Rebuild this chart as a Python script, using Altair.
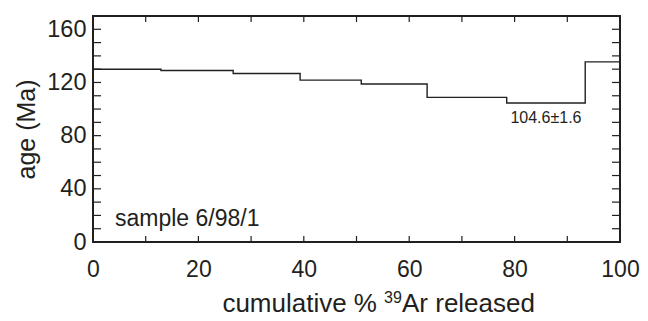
import altair as alt
import pandas as pd

# step-heating spectrum: cumulative % 39Ar boundaries and step ages (Ma)
cum_edges = [0, 12.9, 26.6, 39.3, 50.9, 63.4, 78.5, 93.4, 100]
step_ages = [130.0, 129.0, 126.8, 121.8, 118.8, 108.8, 104.6, 135.5]
plateau_label = "104.6±1.6"
sample_label = "sample 6/98/1"
y_tick_labels = [0, 40, 80, 120, 160]
x_tick_labels = [0, 20, 40, 60, 80, 100]
y_minor = [10, 20, 30, 40, 50, 60, 70, 80, 90, 100, 110, 120, 130, 140, 150, 160]
x_minor = [10, 20, 30, 40, 50, 60, 70, 80, 90]

W, H = 527, 226
FONT = "Liberation Sans"
INK = "#231f20"

xs = alt.Scale(domain=[0, 100], nice=False, zero=False)
ys = alt.Scale(domain=[0, 170], nice=False)
xa = alt.Axis(values=x_tick_labels, title=None, ticks=False, domain=False, grid=False,
              labelFontSize=23, labelFont=FONT, labelColor=INK, labelPadding=16, labelFlush=False)
ya = alt.Axis(values=y_tick_labels, title="age (Ma)", ticks=False, domain=False, grid=False,
              labelFontSize=23.5, labelFont=FONT, labelColor=INK, labelPadding=7,
              titleFontSize=25, titleFont=FONT, titleColor=INK, titleFontWeight="normal",
              titlePadding=7)

steps = pd.DataFrame({"pct": cum_edges, "age": step_ages + [step_ages[-1]]})
line = alt.Chart(steps).mark_line(interpolate="step-after", color=INK, strokeWidth=1.4).encode(
    x=alt.X("pct:Q", scale=xs, axis=xa),
    y=alt.Y("age:Q", scale=ys, axis=ya),
)

ydf = pd.DataFrame({"age": y_minor})
xdf = pd.DataFrame({"pct": x_minor})
tick_style = dict(color=INK, strokeWidth=1.2)
left_t = alt.Chart(ydf).mark_rule(**tick_style).encode(
    y=alt.Y("age:Q", scale=ys, axis=ya), x=alt.value(0), x2=alt.value(8))
right_t = alt.Chart(ydf).mark_rule(**tick_style).encode(
    y=alt.Y("age:Q", scale=ys, axis=ya), x=alt.value(W - 8), x2=alt.value(W))
bot_t = alt.Chart(xdf).mark_rule(**tick_style).encode(
    x=alt.X("pct:Q", scale=xs, axis=xa), y=alt.value(H), y2=alt.value(H - 6))
top_t = alt.Chart(xdf).mark_rule(**tick_style).encode(
    x=alt.X("pct:Q", scale=xs, axis=xa), y=alt.value(0), y2=alt.value(6))

plat = pd.DataFrame({"pct": [(cum_edges[6] + cum_edges[7]) / 2], "age": [step_ages[6]],
                     "label": [plateau_label]})
plat_text = alt.Chart(plat).mark_text(font=FONT, fontSize=16, color=INK, baseline="top", dy=7).encode(
    x=alt.X("pct:Q", scale=xs, axis=xa), y=alt.Y("age:Q", scale=ys, axis=ya), text="label:N")

samp = alt.Chart(pd.DataFrame({"label": [sample_label]})).mark_text(
    font=FONT, fontSize=23, color=INK, align="left", baseline="middle").encode(
    x=alt.value(22), y=alt.value(203), text="label:N")

split = 291
base_y = 296
t1 = alt.Chart(pd.DataFrame({"t": ["cumulative %"]})).mark_text(
    font=FONT, fontSize=26, color=INK, align="right", baseline="alphabetic").encode(
    x=alt.value(split - 7), y=alt.value(base_y), text="t:N")
t2 = alt.Chart(pd.DataFrame({"t": ["39"]})).mark_text(
    font=FONT, fontSize=16, color=INK, align="left", baseline="alphabetic").encode(
    x=alt.value(split), y=alt.value(base_y - 9), text="t:N")
t3 = alt.Chart(pd.DataFrame({"t": ["Ar released"]})).mark_text(
    font=FONT, fontSize=26, color=INK, align="left", baseline="alphabetic").encode(
    x=alt.value(split + 18), y=alt.value(base_y), text="t:N")

chart = alt.layer(line, left_t, right_t, bot_t, top_t, plat_text, samp, t1, t2, t3).properties(
    width=W, height=H,
    autosize=alt.AutoSizeParams(type="none"),
    padding={"left": 85, "top": 8, "right": 20, "bottom": 71},
    background="white",
).configure_view(stroke=INK, strokeWidth=2)

chart.save("out.html", embed_options={"renderer": "svg", "actions": False})
